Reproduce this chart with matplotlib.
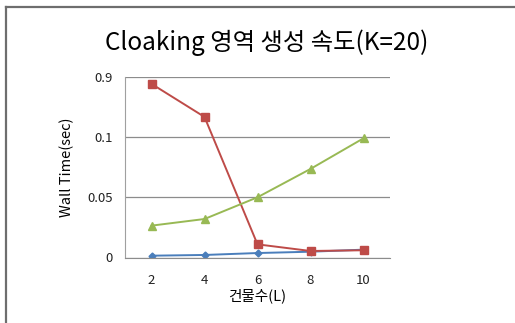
import numpy as np
import matplotlib
matplotlib.use("Agg")
import matplotlib.pyplot as plt
from matplotlib.lines import Line2D

plt.rcParams['font.family'] = ['Noto Sans CJK KR', 'DejaVu Sans']

# Datos
buildings = [2, 4, 6, 8, 10]
blue_vals = [0.0015, 0.0021, 0.0037, 0.0048, 0.0065]
red_vals = [0.1439, 0.1165, 0.0109, 0.0054, 0.0060]
green_vals = [0.0264, 0.0319, 0.0499, 0.0734, 0.0988]
ytick_pos = [0, 0.05, 0.1, 0.15]
ytick_labels = ["0", "0.05", "0.1", "0.9"]

fig = plt.figure(figsize=(5.15, 3.23), dpi=100)
ax = fig.add_axes([125 / 515, 1 - 257.5 / 323, 265 / 515, 181 / 323])

ax.plot(buildings, blue_vals, color="#4A7EBB", marker="D", markersize=3.5, linewidth=1.4)
ax.plot(buildings, red_vals, color="#BE4B48", marker="s", markersize=5.5, linewidth=1.4)
ax.plot(buildings, green_vals, color="#98B954", marker="^", markersize=5.5, linewidth=1.4)

ax.set_xlim(1, 11)
ax.set_ylim(0, 0.15)
ax.set_xticks(buildings)
ax.set_yticks(ytick_pos)
ax.set_yticklabels(ytick_labels)
ax.tick_params(length=0, labelsize=9.5, colors="#222222")
ax.tick_params(axis="y", pad=9)
ax.tick_params(axis="x", pad=12)
ax.grid(axis="y", color="#8c8c8c", linewidth=0.9)
ax.set_axisbelow(True)
for side in ["top", "right"]:
    ax.spines[side].set_visible(False)
ax.spines["left"].set_color("#a0a0a0")
ax.spines["bottom"].set_color("#8c8c8c")

ax.set_xlabel("건물수(L)", fontsize=10.5, labelpad=1)
ax.set_ylabel("Wall Time(sec)", fontsize=10.5, labelpad=9)

fig.text(267 / 515, 1 - 43 / 323, "Cloaking 영역 생성 속도(K=20)", fontsize=17.5,
         ha="center", va="center")

# Marco del borde superior e izquierdo
fig.add_artist(Line2D([6 / 515, 6 / 515], [0, 1 - 6.5 / 323], transform=fig.transFigure,
                      color="#6e6e6e", linewidth=1.6))
fig.add_artist(Line2D([5.5 / 515, 1], [1 - 6.5 / 323, 1 - 6.5 / 323], transform=fig.transFigure,
                      color="#6e6e6e", linewidth=1.6))

fig.savefig("out.png", dpi=100)
